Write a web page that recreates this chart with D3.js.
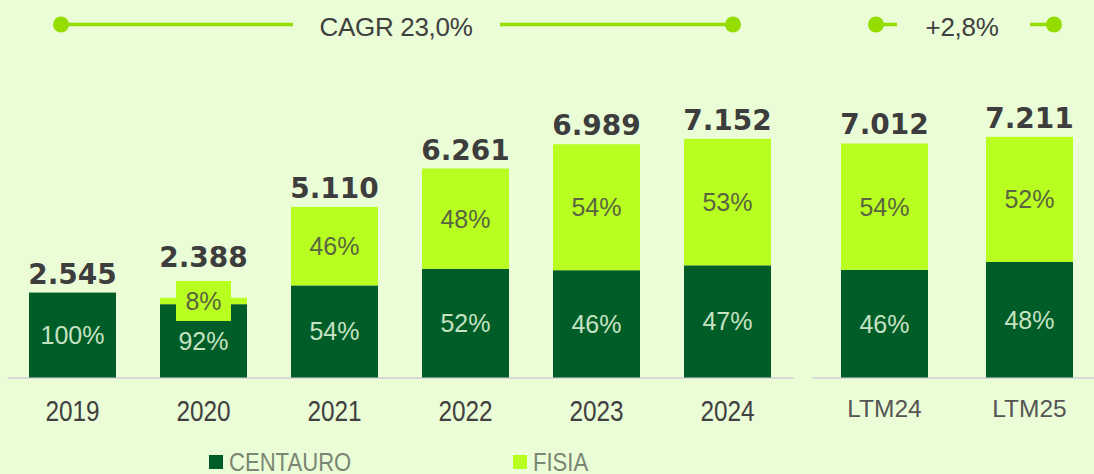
<!DOCTYPE html>
<html>
<head>
<meta charset="utf-8">
<script src="https://cdn.jsdelivr.net/npm/d3@7"></script>
<style>
  body { margin: 0; background: #ebfdd6; }
  svg { display: block; }
</style>
</head>
<body>
<svg id="chart" width="1094" height="474"></svg>
<script>
// data
const years = ["2019", "2020", "2021", "2022", "2023", "2024"];
const ltmPeriods = ["LTM24", "LTM25"];
const totals = [2545, 2388, 5110, 6261, 6989, 7152, 7012, 7211];
const centauroPct = [100, 92, 54, 52, 46, 47, 46, 48];
const fisiaPct = [0, 8, 46, 48, 54, 53, 54, 52];
const seriesNames = ["CENTAURO", "FISIA"];
const cagrLabel = "CAGR 23,0%";
const ltmLabel = "+2,8%";

const W = 1094, H = 474;
const baseY = 377.5;
const darkGreen = "#005d27";
const lime = "#b8fe21";
const lineGreen = "#95dc00";
const textDark = "#404040";
const sans = "'Liberation Sans', Arial, sans-serif";

const svg = d3.select("#chart");
const ptBR = d3.formatLocale({ decimal: ",", thousands: ".", grouping: [3], currency: ["", ""] });
const fmt = ptBR.format(",d");

// two separate band scales, one per group of bars
const xYears = d3.scaleBand().domain(years).range([7, 793]).paddingInner(0.336).paddingOuter(0.168);
const xLtm = d3.scaleBand().domain(ltmPeriods).range([812, 1102]).paddingInner(0.4).paddingOuter(0.2);
const y = d3.scaleLinear().domain([0, 8000]).range([baseY, baseY - 267]);

const cats = years.concat(ltmPeriods);
const rows = cats.map((c, i) => {
    const isLtm = i >= years.length;
    const sc = isLtm ? xLtm : xYears;
    const cent = totals[i] * centauroPct[i] / 100;
    return {
        cat: c, total: totals[i], cent: cent, fisia: totals[i] - cent,
        cPct: centauroPct[i], fPct: fisiaPct[i],
        x: sc(c), w: sc.bandwidth()
    };
});

// axes
function drawAxis(scale) {
    const g = svg.append("g")
        .attr("transform", `translate(0,${baseY})`)
        .call(d3.axisBottom(scale).tickSize(0).tickSizeOuter(0).tickPadding(0));
    g.select(".domain").attr("stroke", "#d8d8d8").attr("stroke-width", 2);
    return g;
}
const axYears = drawAxis(xYears);
// year labels are set in a condensed face: squeeze them horizontally
axYears.selectAll("text")
    .attr("dy", null).attr("y", 43.5)
    .attr("transform", "scale(0.84,1)")
    .style("font-family", sans)
    .style("font-size", "29px")
    .attr("fill", textDark);
const axLtm = drawAxis(xLtm);
axLtm.selectAll("text")
    .attr("dy", null).attr("y", 39.5)
    .style("font-family", sans)
    .style("font-size", "24.5px")
    .attr("fill", "#555");

// stacked bars
const bars = svg.append("g");
bars.selectAll("rect.cent").data(rows).enter().append("rect")
    .attr("class", "cent")
    .attr("x", d => d.x).attr("width", d => d.w)
    .attr("y", d => y(d.cent)).attr("height", d => baseY - y(d.cent))
    .attr("fill", darkGreen);
bars.selectAll("rect.fisia").data(rows.filter(d => d.fisia > 0)).enter().append("rect")
    .attr("class", "fisia")
    .attr("x", d => d.x).attr("width", d => d.w)
    .attr("y", d => y(d.total)).attr("height", d => y(d.cent) - y(d.total))
    .attr("fill", lime);

// percentage labels
bars.selectAll("text.cent").data(rows).enter().append("text")
    .attr("x", d => d.x + d.w / 2)
    .attr("y", d => (y(d.cent) + baseY) / 2)
    .attr("dy", "0.36em")
    .attr("text-anchor", "middle")
    .style("font-family", sans).style("font-size", "25px")
    .attr("fill", "#c6e2c2")
    .text(d => d.cPct + "%");

const fisiaRows = rows.filter(d => d.fPct > 0);
// thin segments get a lime tag behind their label
const smallRows = fisiaRows.filter(d => d.fPct < 15);
bars.selectAll("rect.tag").data(smallRows).enter().append("rect")
    .attr("x", d => d.x + d.w / 2 - 27.5).attr("width", 55)
    .attr("y", d => (y(d.total) + y(d.cent)) / 2 - 20).attr("height", 40)
    .attr("fill", lime);
bars.selectAll("text.fisia").data(fisiaRows).enter().append("text")
    .attr("x", d => d.x + d.w / 2)
    .attr("y", d => (y(d.total) + y(d.cent)) / 2)
    .attr("dy", "0.36em")
    .attr("text-anchor", "middle")
    .style("font-family", sans).style("font-size", "25px")
    .attr("fill", "#5a6440")
    .text(d => d.fPct + "%");

// totals above bars
bars.selectAll("text.total").data(rows).enter().append("text")
    .attr("x", d => d.x + d.w / 2)
    .attr("y", d => {
        const top = y(d.total);
        if (d.fPct > 0 && d.fPct < 15) return (top + y(d.cent)) / 2 - 20 - 14;
        return top - 9;
    })
    .attr("text-anchor", "middle")
    .style("font-family", "'DejaVu Sans', sans-serif")
    .style("font-weight", "bold")
    .style("font-size", "28px")
    .attr("fill", "#3d3d3d")
    .text(d => fmt(d.total));

// growth annotations
const ann = svg.append("g");
function bracket(x1, x2, gapL, gapR, label, cx) {
    ann.append("line").attr("x1", x1).attr("x2", gapL).attr("y1", 24.5).attr("y2", 24.5)
        .attr("stroke", lineGreen).attr("stroke-width", 3.5);
    ann.append("line").attr("x1", gapR).attr("x2", x2).attr("y1", 24.5).attr("y2", 24.5)
        .attr("stroke", lineGreen).attr("stroke-width", 3.5);
    ann.selectAll(null).data([x1, x2]).enter().append("circle")
        .attr("cx", d => d).attr("cy", 24.5).attr("r", 8).attr("fill", lineGreen);
    ann.append("text").attr("x", cx).attr("y", 36)
        .attr("text-anchor", "middle")
        .style("font-family", sans)
        .style("font-size", "26px")
        .style("letter-spacing", "-0.3px")
        .attr("fill", textDark)
        .text(label);
}
bracket(xYears("2019") + 32, xYears("2024") + 49, 293, 500, cagrLabel, 396);
bracket(xLtm("LTM24") + 35, xLtm("LTM25") + 68, 897, 1030, ltmLabel, 962);

// legend
const legendX = [209, 513];
const legendColors = [darkGreen, lime];
const lg = svg.append("g").selectAll("g").data(seriesNames).enter().append("g")
    .attr("transform", (d, i) => `translate(${legendX[i]},455)`);
lg.append("rect").attr("width", 14).attr("height", 14).attr("fill", (d, i) => legendColors[i]);
lg.append("g").attr("transform", "translate(20,0) scale(0.85,1)")
    .append("text").attr("x", 0).attr("y", 16)
    .style("font-family", sans)
    .style("font-size", "26px")
    .attr("fill", "#7a8674")
    .text(d => d);
</script>
</body>
</html>
